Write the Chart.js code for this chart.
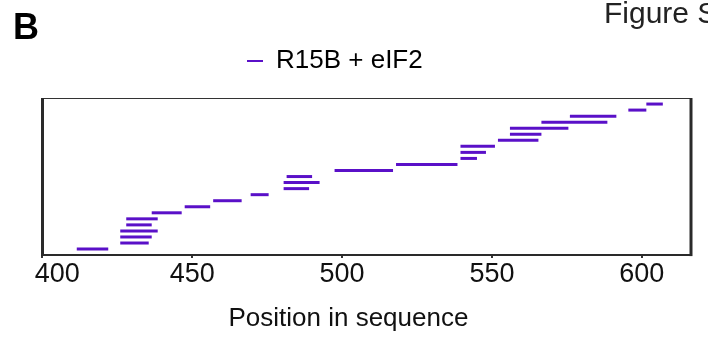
<!DOCTYPE html>
<html><head><meta charset="utf-8">
<script src="https://cdn.jsdelivr.net/npm/chart.js@4/dist/chart.umd.min.js"></script>
<style>html,body{margin:0;padding:0;background:#fff}#wrap{width:708px;height:339px;position:relative}</style>
</head><body><div id="wrap"><canvas id="c"></canvas></div>
<script>
// ---- data ----
const seriesName = 'R15B + eIF2';
const peptideStart = [411.5, 426, 426, 426, 428, 428, 436.5, 447.5, 457, 469.5, 480.5, 480.5, 481.5, 497.5, 518, 539.5, 539.5, 539.5, 552, 556, 556, 566.5, 576, 595.5, 601.5];
const peptideEnd   = [422, 435.5, 436.5, 438.5, 436.5, 438.5, 446.5, 456, 466.5, 475.5, 489, 492.5, 490, 517, 538.5, 545, 548, 551, 565.5, 566.5, 575.5, 588.5, 591.5, 601.5, 607];
const peptideRow   = [1, 2, 3, 4, 5, 6, 7, 8, 9, 10, 11, 12, 13, 14, 15, 16, 17, 18, 19, 20, 21, 22, 23, 24, 25];
const xTickValues = [400, 450, 500, 550, 600];
const xTitle = 'Position in sequence';
const panelLabel = 'B';
const figureLabel = 'Figure S';

const FONT = '"Liberation Sans", Arial, Helvetica, sans-serif';
const PURPLE = '#5a10c8';

const datasets = peptideStart.map((s, i) => ({
  label: seriesName,
  data: [{x: s, y: peptideRow[i]}, {x: peptideEnd[i], y: peptideRow[i]}],
  showLine: true,
  borderColor: PURPLE,
  backgroundColor: PURPLE,
  borderWidth: 3,
  borderCapStyle: 'butt',
  pointRadius: 0,
  pointHoverRadius: 0,
  fill: false
}));

const framePlugin = {
  id: 'frame',
  afterLayout(chart) {
    const lg = chart.legend;
    if (lg) {
      const dx = 237 - lg.left;
      lg.left += dx; lg.right += dx;
      lg.top -= 14; lg.bottom -= 14;
    }
  },
  afterDraw(chart) {
    const {ctx, chartArea: a} = chart;
    ctx.save();
    ctx.strokeStyle = '#333';
    ctx.lineWidth = 1.2;
    ctx.beginPath(); ctx.moveTo(a.left, a.top + 0.5); ctx.lineTo(a.right, a.top + 0.5); ctx.stroke();
    ctx.lineWidth = 3;
    ctx.strokeStyle = '#2a2a2a';
    ctx.beginPath(); ctx.moveTo(a.left + 0.5, a.top); ctx.lineTo(a.left + 0.5, a.bottom); ctx.stroke();
    ctx.beginPath(); ctx.moveTo(a.right, a.top); ctx.lineTo(a.right, a.bottom + 1); ctx.stroke();
    ctx.fillStyle = '#000';
    ctx.textBaseline = 'alphabetic';
    ctx.textAlign = 'left';
    ctx.font = 'bold 36px ' + FONT;
    ctx.fillText(panelLabel, 13, 39);
    ctx.fillStyle = '#222';
    ctx.font = '30px ' + FONT;
    ctx.fillText(figureLabel, 604, 23);
    ctx.restore();
  }
};

new Chart(document.getElementById('c'), {
  type: 'scatter',
  data: { datasets },
  plugins: [framePlugin],
  options: {
    responsive: true,
    maintainAspectRatio: false,
    animation: false,
    layout: { padding: { left: 42, right: 17, top: 52, bottom: 2.3 } },
    plugins: {
      tooltip: { enabled: false },
      legend: {
        display: true,
        position: 'top',
        align: 'start',
        labels: {
          font: { family: FONT, size: 26 },
          color: '#111',
          boxWidth: 16,
          boxHeight: 2,
          padding: 10,
          generateLabels: () => [{
            text: seriesName, fillStyle: PURPLE, strokeStyle: PURPLE, lineWidth: 0, hidden: false, datasetIndex: 0
          }]
        }
      }
    },
    scales: {
      x: {
        type: 'linear',
        min: 399.9,
        max: 616.4,
        afterBuildTicks: (scale) => { scale.ticks = xTickValues.map(v => ({ value: v })); },
        ticks: {
          font: { family: FONT, size: 27 },
          color: '#111',
          padding: 0,
          maxRotation: 0,
          autoSkip: false,
          callback: (v) => (v === 400 ? '\u2007\u2007' + v : String(v))
        },
        grid: { display: true, drawOnChartArea: false, drawTicks: true, tickLength: 3, color: '#333', lineWidth: 2 },
        border: { display: true, color: '#2a2a2a', width: 2 },
        title: {
          display: true,
          text: xTitle + '\u00a0\u00a0\u00a0\u00a0\u00a0',
          font: { family: FONT, size: 26 },
          color: '#111',
          padding: { top: 13, bottom: 2 }
        }
      },
      y: { display: false, min: 0, max: 26 }
    }
  }
});
</script></body></html>
